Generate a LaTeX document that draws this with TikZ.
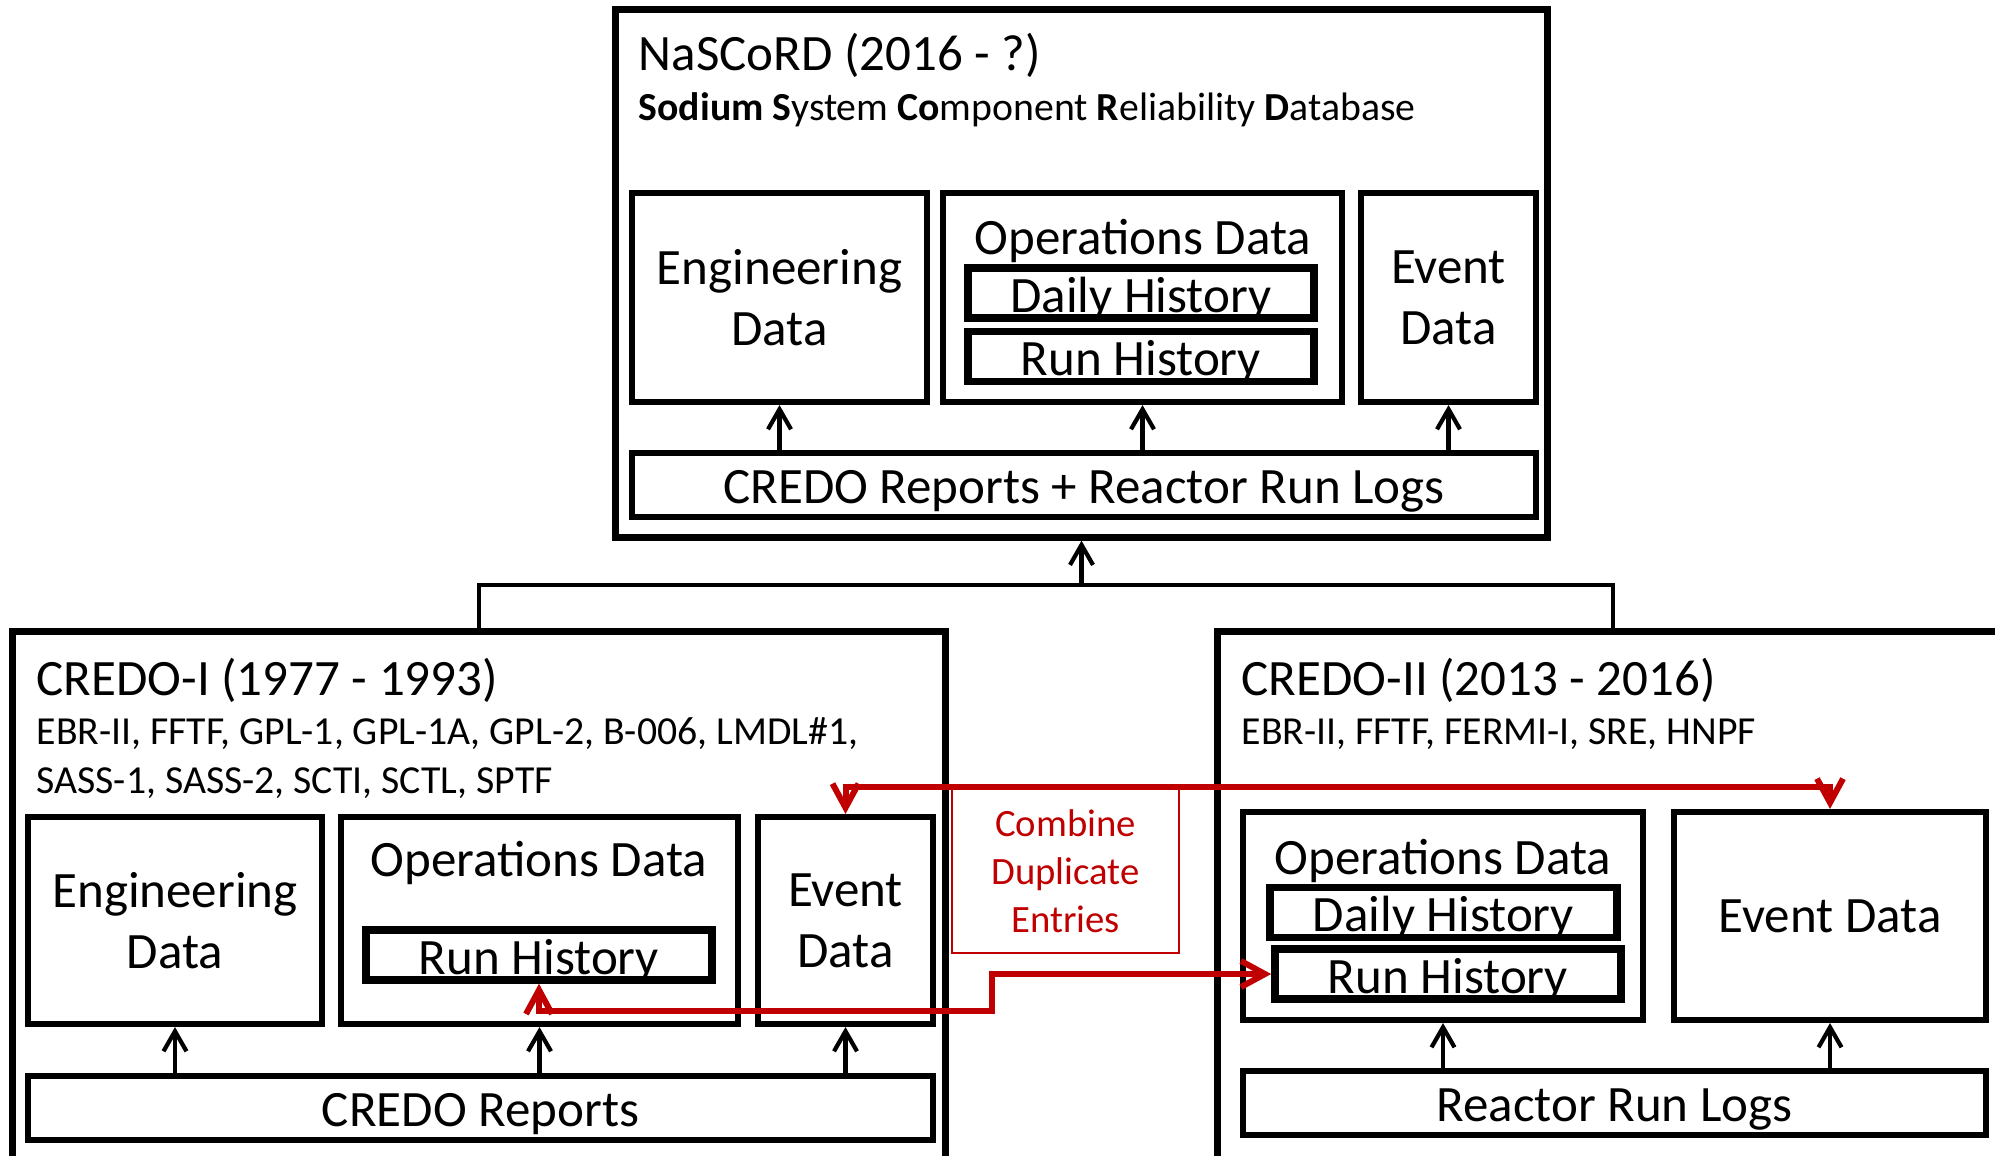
\documentclass[tikz,border=0pt]{standalone}
\usepackage{fontspec}
\setmainfont{Carlito}
\usepackage{tikz}
\usetikzlibrary{arrows.meta}

\definecolor{mergered}{RGB}{192,0,0}
\newcommand{\bigtxt}{\fontsize{14.5}{17.4}\selectfont}
\newcommand{\smalltxt}{\fontsize{11.3}{13.9}\selectfont}
\newcommand{\mergetxt}{\fontsize{11}{13.65}\selectfont}

\tikzset{
	outerbox/.style={draw, line width=2pt, inner sep=0pt},
	databox/.style={draw, line width=1.7pt, inner sep=0pt, align=center},
	histbox/.style={draw, line width=2.1pt, inner sep=0pt, minimum width=3.46cm, minimum height=0.5cm, text height=0.38cm, text depth=0pt},
	srcbox/.style={draw, line width=1.7pt, inner sep=0pt, minimum height=0.64cm, text height=0.36cm, text depth=0pt},
	heading/.style={anchor=base west, inner sep=0pt},
	mergebox/.style={draw=mergered, line width=0.5pt, text=mergered, font=\mergetxt, align=center, inner sep=0pt},
	feed/.style={-{Straight Barb[length=0.2cm, width=0.23cm]}, line width=1.2pt},
	merge/.style={{Straight Barb[length=0.24cm, width=0.26cm]}-{Straight Barb[length=0.24cm, width=0.26cm]}, line width=1.7pt, draw=mergered}
}

\begin{document}
\begin{tikzpicture}[x=0.01cm, y=-0.01cm, font=\bigtxt]
	\useasboundingbox (0,0) rectangle (1995,1155);
	\clip (0,0) rectangle (1995,1155);

	\node[outerbox, minimum width=9.31cm, minimum height=5.27cm] (nascord) at (1081.5,273.5) {};
	\node[heading] (nascordname) at (638,71) {NaSCoRD (2016 - ?)};
	\node[heading, font=\smalltxt] (nascordfull) at (638,121) {\textbf{Sodium S}ystem \textbf{Co}mponent \textbf{R}eliability \textbf{D}atabase};
	\node[databox, minimum width=2.95cm, minimum height=2.09cm] (engN) at (779.5,297.5) {Engineering\\Data};
	\node[databox, minimum width=3.99cm, minimum height=2.09cm] (opsN) at (1142.5,297.5) {};
	\node[anchor=base] (opsNlabel) at (1143,255) {Operations Data};
	\node[histbox] (dailyN) at (1141,293) {Daily History};
	\node[histbox] (runN) at (1141,356.5) {Run History};
	\node[databox, minimum width=1.75cm, minimum height=2.09cm] (eventN) at (1448.5,297.5) {Event\\Data};
	\node[srcbox, minimum width=9.04cm] (repN) at (1084,485) {CREDO Reports + Reactor Run Logs};
	\draw[feed] (repN.north -| engN.south) -- (engN.south);
	\draw[feed] (repN.north -| opsN.south) -- (opsN.south);
	\draw[feed] (repN.north -| eventN.south) -- (eventN.south);

	\node[outerbox, minimum width=9.32cm, minimum height=5.68cm] (credoI) at (479,916) {};
	\node[heading] (credoIname) at (36,695) {CREDO-I (1977 - 1993)};
	\node[heading, font=\smalltxt, align=left] (credoIplants) at (36,793) {EBR-II, FFTF, GPL-1, GPL-1A, GPL-2, B-006, LMDL\#1,\\SASS-1, SASS-2, SCTI, SCTL, SPTF};
	\node[databox, minimum width=2.94cm, minimum height=2.07cm] (engI) at (175,920.5) {Engineering\\Data};
	\node[databox, minimum width=3.97cm, minimum height=2.07cm] (opsI) at (539.5,920.5) {};
	\node[anchor=base] (opsIlabel) at (539,876) {Operations Data};
	\node[histbox] (runI) at (539,955) {Run History};
	\node[databox, minimum width=1.75cm, minimum height=2.07cm] (eventI) at (845.5,920.5) {Event\\Data};
	\node[srcbox, minimum width=9.05cm] (repI) at (480.5,1108) {CREDO Reports};
	\draw[feed] (repI.north -| engI.south) -- (engI.south);
	\draw[feed] (repI.north -| opsI.south) -- (opsI.south);
	\draw[feed] (repI.north -| eventI.south) -- (eventI.south);

	\node[outerbox, minimum width=7.90cm, minimum height=5.68cm] (credoII) at (1613,916) {};
	\node[heading] (credoIIname) at (1241,695) {CREDO-II (2013 - 2016)};
	\node[heading, font=\smalltxt] (credoIIplants) at (1241,744) {EBR-II, FFTF, FERMI-I, SRE, HNPF};
	\node[databox, minimum width=4.00cm, minimum height=2.08cm] (opsII) at (1443,916) {};
	\node[anchor=base] (opsIIlabel) at (1443,874) {Operations Data};
	\node[histbox, minimum width=3.47cm] (dailyII) at (1443.5,912.5) {Daily History};
	\node[histbox] (runII) at (1448,974) {Run History};
	\node[databox, minimum width=3.12cm, minimum height=2.08cm] (eventII) at (1830,916) {Event Data};
	\node[srcbox, minimum width=7.43cm] (logsII) at (1614.5,1103) {Reactor Run Logs};
	\draw[feed] (logsII.north -| opsII.south) -- (opsII.south);
	\draw[feed] (logsII.north -| eventII.south) -- (eventII.south);

	\coordinate (join) at (1081.5,585);
	\draw[line width=1.3pt] (credoI.north) |- (join) -| (credoII.north);
	\draw[feed] (join) -- (nascord.south);

	\node[mergebox, minimum width=2.27cm, minimum height=1.64cm] (combine) at (1065.5,871) {Combine\\Duplicate\\Entries};
	\coordinate (mergetop) at (845.5,787);
	\draw[merge] (eventI.north) |- (mergetop) -| (eventII.north);
	\coordinate (stepup) at (992,1011);
	\draw[merge] (runI.south) |- (stepup) |- (runII.west);
\end{tikzpicture}
\end{document}
